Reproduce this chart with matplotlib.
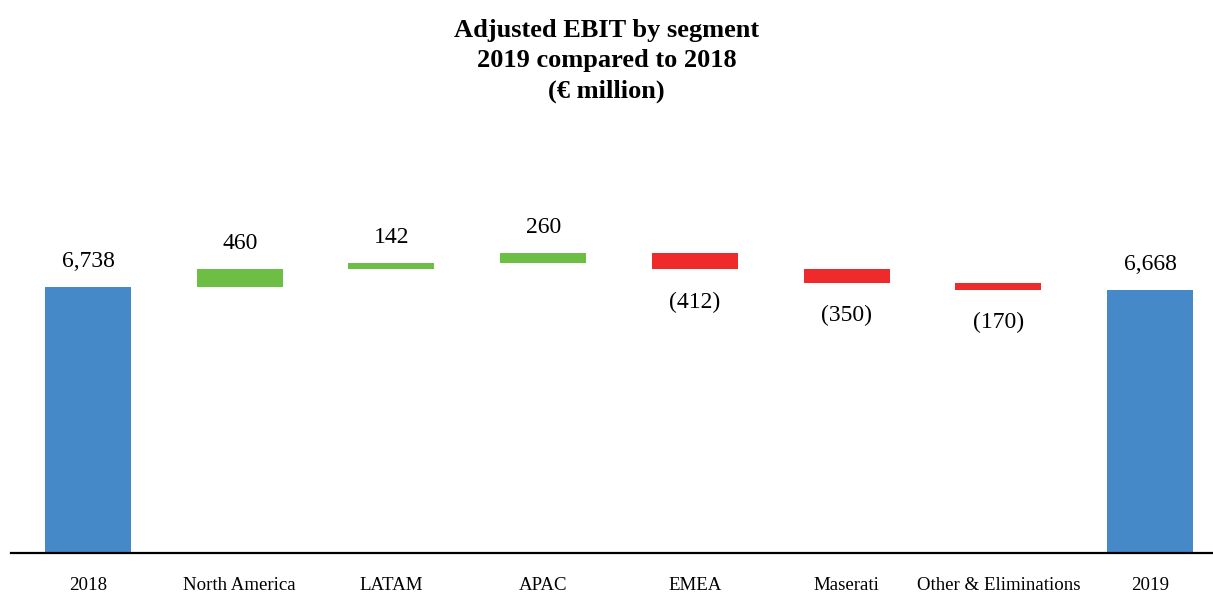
import matplotlib
matplotlib.use("Agg")
import matplotlib.pyplot as plt
import numpy as np

# ── Data ───────────────────────────────────────────────────────────────────────
categories = ["2018", "North America", "LATAM", "APAC", "EMEA",
              "Maserati", "Other & Eliminations", "2019"]
start_value = 6738
deltas = [460, 142, 260, -412, -350, -170]
end_value = 6668
labels = ["6,738", "460", "142", "260", "(412)", "(350)", "(170)", "6,668"]

BLUE  = "#4589c8"
GREEN = "#6dbe45"
RED   = "#ee2a2a"

plt.rcParams["font.family"] = ["Liberation Serif", "DejaVu Serif"]

# ── Waterfall geometry ─────────────────────────────────────────────────────────
bottoms, heights, colors = [0], [start_value], [BLUE]
running = start_value
for d in deltas:
    bottoms.append(min(running, running + d))
    heights.append(abs(d))
    colors.append(GREEN if d >= 0 else RED)
    running += d
bottoms.append(0)
heights.append(end_value)
colors.append(BLUE)

x = np.arange(len(categories))

fig = plt.figure(figsize=(12.13, 5.94), dpi=100)
ax = fig.add_axes([11 / 1213, 1 - 553 / 594, 1202 / 1213, (553 - 130) / 594])

ax.bar(x, heights, bottom=bottoms, width=0.567, color=colors, zorder=2)

# value labels
pos_flags = [True] + [d >= 0 for d in deltas] + [True]
for i, (b, h, lab, up) in enumerate(zip(bottoms, heights, labels, pos_flags)):
    if up:
        ax.annotate(lab, (x[i], b + h), xytext=(0, 14.5), textcoords="offset points",
                    ha="center", va="baseline", fontsize=17)
    else:
        ax.annotate(lab, (x[i], b), xytext=(0, -16), textcoords="offset points",
                    ha="center", va="top", fontsize=17)

ax.set_xlim(-0.508, 7.415)
ax.set_ylim(0, 10715)
ax.set_xticks(x)
ax.set_xticklabels(categories, fontsize=13.6)
ax.tick_params(axis="x", length=0, pad=17)
ax.set_yticks([])
for s in ("top", "right", "left"):
    ax.spines[s].set_visible(False)
ax.spines["bottom"].set_linewidth(1.6)
ax.spines["bottom"].set_zorder(3)

fig.text(0.5, 1 - 61 / 594, "Adjusted EBIT by segment\n2019 compared to 2018\n(€ million)",
         ha="center", va="center", fontsize=19, fontweight="bold", linespacing=1.42)

plt.savefig("out.png", dpi=100)
